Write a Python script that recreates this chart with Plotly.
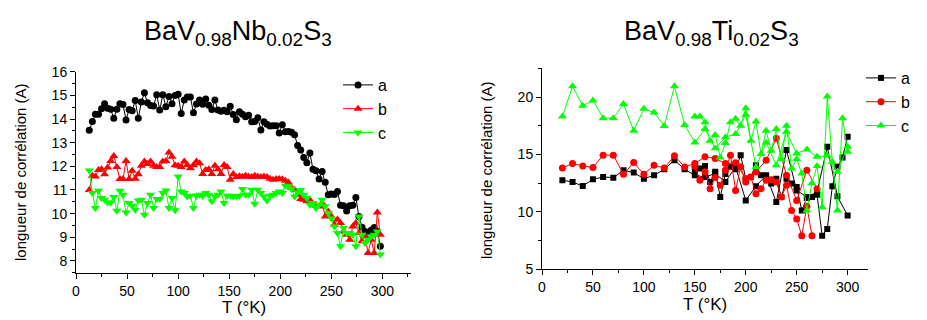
import plotly.graph_objects as go

# ---------------- Left panel : BaV0.98Nb0.02S3 ----------------
T_left = [13,16,19,22,25,28,31,34,37,40,43,46,49,52,55,58,61,64,67,70,73,76,79,82,85,88,91,94,97,100,
          103,106,109,112,115,118,121,124,127,130,133,136,139,142,145,148,151,154,157,160,163,166,169,172,175,
          178,181,184,187,190,193,196,199,202,205,208,211,214,217,220,223,226,229,232,235,238,241,244,247,250,
          253,256,259,262,265,268,271,274,277,280,283,286,289,292,295,298]

nb_a = [13.53,13.9,14.2,14.2,14.43,14.65,14.45,14.41,14.03,14.41,
        14.65,14.61,13.96,14.4,14.35,14.78,14.03,14.72,15.11,14.69,
        14.57,14.55,15.03,14.38,15.03,14.52,14.95,14.65,14.99,15.05,
        14.23,14.8,14.93,14.93,14.26,14.64,14.8,14.62,14.85,14.58,
        14.4,14.8,14.38,14.33,14.37,14.31,14.54,14.19,13.97,14.31,
        14.2,14.1,14.16,13.88,13.89,14.05,13.54,13.88,13.78,13.71,
        13.72,13.72,13.41,13.76,13.46,13.47,13.44,13.33,12.88,12.69,
        12.37,12.15,12.56,11.88,11.81,11.46,11.78,11.33,10.8,10.83,
        10.81,10.94,10.35,10.33,10.11,10.33,10.36,10.68,9.88,9.43,
        9.25,9.18,9.3,9.42,9.25,8.62]

nb_b = [11.0,11.6,11.57,11.85,11.88,11.67,11.95,12.23,12.44,11.97,
        11.46,11.46,12.23,11.46,11.81,11.47,11.67,12.02,12.2,12.1,
        12.2,12.02,11.97,11.97,12.2,12.23,12.58,12.41,12.05,12.02,
        11.97,12.2,12.06,11.92,12.05,12.2,12.13,11.68,11.85,11.88,
        11.68,12.02,11.88,11.68,12.06,11.97,11.43,11.68,11.55,11.58,
        11.56,11.6,11.57,11.55,11.6,11.57,11.55,11.57,11.55,11.48,
        11.43,11.46,11.46,11.45,11.39,11.32,11.08,11.0,10.8,10.62,
        10.59,10.52,10.58,10.38,10.33,10.3,10.45,9.88,10.09,9.88,
        9.53,9.75,9.6,9.25,9.11,8.9,9.46,9.6,9.18,8.83,
        9.04,8.34,8.9,8.34,10.05,9.11]

nb_c = [11.82,10.87,10.24,10.97,10.66,10.59,10.47,10.47,10.7,10.12,
        10.97,10.8,10.05,10.45,10.33,10.16,10.56,10.59,9.95,10.45,
        10.8,10.24,10.62,10.62,10.87,10.98,10.24,10.66,10.14,11.57,
        10.94,10.87,10.73,10.76,10.24,10.76,10.8,10.75,10.87,10.8,
        10.52,10.73,10.8,10.94,10.45,10.76,10.76,10.73,10.73,10.76,
        11.04,10.8,10.8,11.01,10.42,11.01,10.87,10.73,10.56,10.76,
        10.8,10.87,10.94,10.87,11.18,11.15,11.04,10.73,10.9,11.0,
        10.8,10.66,10.38,10.45,10.24,10.38,10.59,10.31,10.03,9.8,
        9.46,9.18,8.62,9.39,9.18,9.18,9.11,8.62,9.88,9.11,
        8.76,8.9,9.04,9.11,9.25,8.27]

# ---------------- Right panel : BaV0.98Ti0.02S3 ----------------
T_a_run1 = [20,30,40,50,60,70,80,90,100,110,120,130,140,150,160,170,180,190,200,210,220,230,240,250,260,270,280,290,300]
ti_a_run1 = [12.75,12.6,12.25,12.83,13.04,12.98,13.62,13.42,12.89,13.18,13.71,14.5,13.71,13.18,13.04,13.33,12.6,13.92,11.0,12.24,
             13.18,10.85,15.38,11.87,11.29,11.73,15.67,11.35,9.68]
T_a_run2 = [150,155,160,165,170,175,180,185,190,195,200,205,210,215,220,225,230,235,240,245,250,255,260,265,270,275,280,285,290,295,300]
ti_a_run2 = [13.6,13.77,14.0,12.6,13.5,11.29,13.3,13.92,13.7,14.94,12.89,13.04,14.06,13.18,13.0,12.46,12.89,11.29,12.89,12.46,
             12.17,10.12,11.2,11.29,11.5,7.92,8.51,12.24,13.92,14.73,16.55]

T_b_run1 = [20,30,40,50,60,70,80,90,100,110,120,130,140,150,160,170,180,190,200,210,220,230,240,250,260,270]
ti_b_run1 = [13.82,14.21,14.0,13.86,14.94,14.94,13.27,14.3,13.27,14.06,13.82,14.88,13.91,14.21,14.79,14.65,14.21,14.27,12.89,13.48,
             14.5,16.4,13.18,11.0,13.62,12.0]
T_b_run2 = [150,155,160,165,170,175,180,185,190,195,200,205,210,215,220,225,230,235,240,245,250,255,260,265]
ti_b_run2 = [13.97,12.75,13.5,12.02,13.0,12.31,13.62,14.94,11.87,13.92,12.6,13.04,11.58,12.02,12.75,12.8,12.6,11.29,12.31,10.12,
             9.39,7.92,10.5,7.92]

T_c_run1 = [20,30,40,50,60,70,80,90,100,110,120,130,140,150,160,170,180,190,200,210,220,230,240,250,260,270,280,290,300]
ti_c_run1 = [18.3,20.93,19.24,19.7,18.16,18.16,19.39,17.07,18.97,18.65,17.48,20.93,17.57,16.05,17.22,15.53,16.49,16.78,18.45,13.91,
             16.02,14.06,16.98,15.09,15.44,14.79,14.9,13.5,15.67]
T_c_run2 = [150,155,160,165,170,175,180,185,190,195,200,205,210,215,220,225,230,235,240,245,250,255,260,265,270,275,280,285,290,295,300]
ti_c_run2 = [18.3,18.3,17.8,16.19,16.7,14.74,16.0,17.81,18.1,17.5,19.03,16.19,17.86,15.03,17.07,15.32,17.22,14.59,17.5,13.77,
             14.6,13.33,10.12,12.5,14.0,10.41,20.05,14.35,10.12,18.16,15.23]

series_names = ["a", "b", "c"]
colors = ["#000000", "#ff0000", "#00ff00"]
title_left = "BaV<sub>0.98</sub>Nb<sub>0.02</sub>S<sub>3</sub>"
title_right = "BaV<sub>0.98</sub>Ti<sub>0.02</sub>S<sub>3</sub>"
ytitle = "longueur de corrélation (A)"
xtitle = "T (°K)"

FONT = "Liberation Sans Narrow, Arial Narrow, Liberation Sans, Arial, sans-serif"

fig = go.Figure()

left_sets = [(nb_a, "circle", 7), (nb_b, "triangle-up", 8), (nb_c, "triangle-down", 8)]
for (vals, sym, sz), name, col in zip(left_sets, series_names, colors):
    fig.add_trace(go.Scatter(x=T_left, y=vals, mode="lines+markers", name=name,
                             line=dict(color=col, width=1),
                             marker=dict(symbol=sym, size=sz, color=col, line=dict(width=0)),
                             xaxis="x", yaxis="y", legend="legend"))

right_sets = [
    (T_a_run1, ti_a_run1, T_a_run2, ti_a_run2, "square", 6),
    (T_b_run1, ti_b_run1, T_b_run2, ti_b_run2, "circle", 7),
    (T_c_run1, ti_c_run1, T_c_run2, ti_c_run2, "triangle-up", 8),
]
for (t1, v1, t2, v2, sym, sz), name, col in zip(right_sets, series_names, colors):
    for k, (tt, vv) in enumerate([(t1, v1), (t2, v2)]):
        fig.add_trace(go.Scatter(x=tt, y=vv, mode="lines+markers", name=name,
                                 legendgroup="r" + name, showlegend=(k == 0),
                                 line=dict(color=col, width=1),
                                 marker=dict(symbol=sym, size=sz, color=col, line=dict(width=0)),
                                 xaxis="x2", yaxis="y2", legend="legend2"))

W, H = 927, 320
def px(x): return x / W
def py(y): return 1 - y / H

axis_common = dict(showline=True, linecolor="black", linewidth=1, ticks="outside", ticklen=5,
                   tickcolor="black", showgrid=False, zeroline=False, mirror=False, automargin=False,
                   tickfont=dict(family=FONT, size=14, color="black"))

fig.update_layout(
    template="none",
    width=W, height=H, margin=dict(l=0, r=0, t=0, b=0, autoexpand=False),
    paper_bgcolor="white", plot_bgcolor="white",
    font=dict(family=FONT, color="black"),
    xaxis=dict(domain=[px(76), px(411)], range=[0, 328], tickvals=[0, 50, 100, 150, 200, 250, 300],
               minor=dict(dtick=25, ticks="outside", ticklen=3, tickcolor="black"), anchor="y", **axis_common),
    yaxis=dict(domain=[py(272.8), py(71.7)], range=[7.5, 16], dtick=1,
               minor=dict(dtick=0.5, ticks="outside", ticklen=3, tickcolor="black"), anchor="x", **axis_common),
    xaxis2=dict(domain=[px(542), px(868)], range=[0, 320], tickvals=[0, 50, 100, 150, 200, 250, 300],
                minor=dict(dtick=25, ticks="outside", ticklen=3, tickcolor="black"), anchor="y2", **axis_common),
    yaxis2=dict(domain=[py(269.3), py(68.3)], range=[5, 22.5], tickvals=[5, 10, 15, 20],
                minor=dict(dtick=2.5, ticks="outside", ticklen=3, tickcolor="black"), anchor="x2", **axis_common),
    legend=dict(x=px(338), y=py(68), xanchor="left", yanchor="top", bgcolor="rgba(0,0,0,0)",
                font=dict(family=FONT, size=16), itemwidth=30, tracegroupgap=0, borderwidth=0),
    legend2=dict(x=px(861), y=py(61), xanchor="left", yanchor="top", bgcolor="rgba(0,0,0,0)",
                 font=dict(family=FONT, size=16), itemwidth=30, tracegroupgap=0, borderwidth=0),
    showlegend=True,
)

ann = [
    dict(text=title_left, x=px(238), y=py(33), xanchor="center", yanchor="middle", font=dict(size=27)),
    dict(text=title_right, x=px(711), y=py(33), xanchor="center", yanchor="middle", font=dict(size=27)),
    dict(text=ytitle, x=px(20), y=py(172), textangle=-90, xanchor="center", yanchor="middle", font=dict(size=15)),
    dict(text=ytitle, x=px(486), y=py(170), textangle=-90, xanchor="center", yanchor="middle", font=dict(size=15)),
    dict(text=xtitle, x=px(244), y=py(307), xanchor="center", yanchor="middle", font=dict(size=17)),
    dict(text=xtitle, x=px(705), y=py(304), xanchor="center", yanchor="middle", font=dict(size=17)),
]
for a in ann:
    a.update(xref="paper", yref="paper", showarrow=False)
    a["font"].update(family=FONT, color="black")
fig.update_layout(annotations=ann)

fig.write_html("out.html", config={"displayModeBar": False},
               post_script="document.body.style.margin='0';document.body.style.overflow='hidden';")
